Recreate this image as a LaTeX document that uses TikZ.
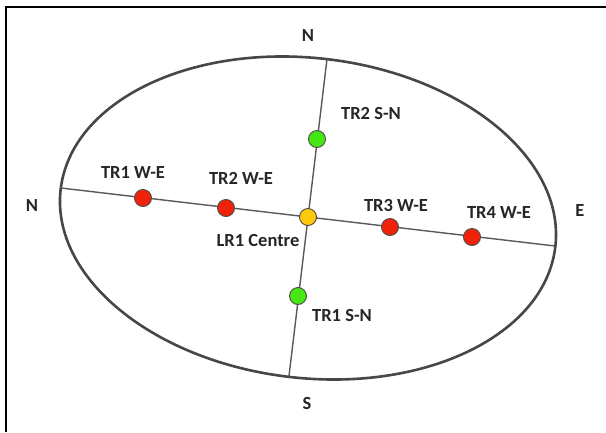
\documentclass[tikz,border=0pt]{standalone}
\usepackage{fontspec}
\setmainfont{Carlito}
\begin{document}
\begin{tikzpicture}[x=1pt,y=-1pt,
  lbl/.style={font=\bfseries\fontsize{18.5}{20}\selectfont, text=black!85, inner sep=0pt},
  dot/.style={circle, draw=black!70, line width=0.9pt, minimum size=17pt, inner sep=0pt},
  reddot/.style={dot, fill={rgb,255:red,240;green,35;blue,10}},
  greendot/.style={dot, fill={rgb,255:red,70;green,230;blue,20}},
  yellowdot/.style={dot, fill={rgb,255:red,255;green,200;blue,10}},
  axis/.style={draw=black!65, line width=1.4pt},
  rim/.style={draw=black!72, line width=2.6pt}]
\useasboundingbox (0,0) rectangle (606,432);
% frame (only top and left edges are visible)
\draw[line width=1.6pt] (6,432) -- (6,7) -- (606,7);
% ellipse
\coordinate (ctr) at (308,218);
\draw[rim, rotate around={-6.6:(ctr)}] (ctr) ellipse [x radius=249, y radius=160];
% axis end points
\coordinate (wl) at (61,188);
\coordinate (er) at (555,246);
\coordinate (nt) at (327,59);
\coordinate (sb) at (289,376);
\draw[axis] (wl) -- (er);
\draw[axis] (nt) -- (sb);
% dots
\node[reddot] (tr1we) at (143,198) {};
\node[reddot] (tr2we) at (226,208) {};
\node[yellowdot] (lr1) at (308,217) {};
\node[reddot] (tr3we) at (390,227) {};
\node[reddot] (tr4we) at (472,237) {};
\node[greendot] (tr2sn) at (317,139) {};
\node[greendot] (tr1sn) at (298,296) {};
% labels
\node[lbl] (ltr1we) at (133,172) {TR1 W-E};
\node[lbl] (ltr2we) at (241,178) {TR2 W-E};
\node[lbl] (llr1) at (258,240) {LR1 Centre};
\node[lbl] (ltr3we) at (396,205) {TR3 W-E};
\node[lbl] (ltr4we) at (499,212) {TR4 W-E};
\node[lbl] (ltr2sn) at (371,113) {TR2 S-N};
\node[lbl] (ltr1sn) at (342,315) {TR1 S-N};
% compass letters
\node[lbl] (cn) at (308,35) {N};
\node[lbl] (cw) at (32,205) {N};
\node[lbl] (ce) at (580,210) {E};
\node[lbl] (cs) at (307,403) {S};
\end{tikzpicture}
\end{document}
